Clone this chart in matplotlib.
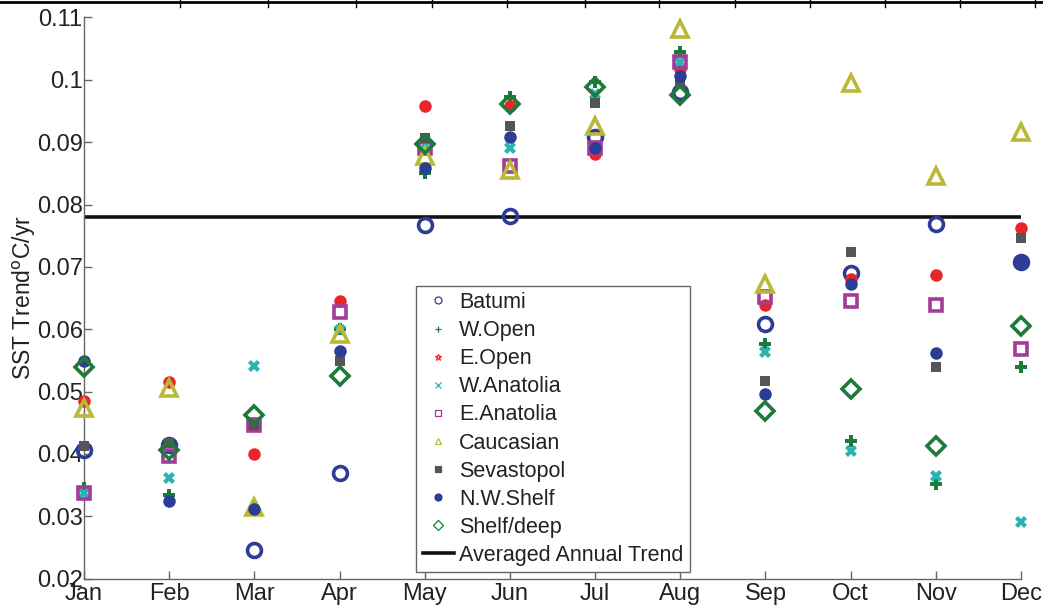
import numpy as np
import matplotlib.pyplot as plt
from matplotlib.lines import Line2D

MONTHS = ['Jan', 'Feb', 'Mar', 'Apr', 'May', 'Jun',
          'Jul', 'Aug', 'Sep', 'Oct', 'Nov', 'Dec']

# monthly SST trends per region (degC / yr)
batumi = [0.0406, 0.0415, 0.0245, 0.0370, 0.0767, 0.0781,
          0.0909, 0.0981, 0.0608, 0.0690, 0.0768, 0.0708]
w_open = [0.0345, 0.0334, 0.0312, 0.0600, 0.0850, 0.0973,
          0.0997, 0.1045, 0.0577, 0.0421, 0.0352, 0.0539]
e_open = [0.0485, 0.0515, 0.0400, 0.0645, 0.0958, 0.0958,
          0.0881, 0.1018, 0.0639, 0.0680, 0.0687, 0.0762]
w_anatolia = [0.0337, 0.0362, 0.0541, 0.0599, 0.0895, 0.0891,
              0.0978, 0.1029, 0.0564, 0.0405, 0.0365, 0.0290]
e_anatolia = [0.0337, 0.0396, 0.0446, 0.0628, 0.0890, 0.0861,
              0.0890, 0.1029, 0.0651, 0.0645, 0.0639, 0.0569]
caucasian = [0.0474, 0.0505, 0.0315, 0.0593, 0.0877, 0.0855,
             0.0926, 0.1081, 0.0673, 0.0995, 0.0845, 0.0916]
sevastopol = [0.0412, 0.0418, 0.0446, 0.0549, 0.0906, 0.0926,
              0.0963, 0.0994, 0.0517, 0.0724, 0.0539, 0.0746]
nw_shelf = [0.0549, 0.0325, 0.0312, 0.0565, 0.0858, 0.0909,
            0.0890, 0.1006, 0.0496, 0.0672, 0.0561, 0.0707]
shelf_deep = [0.0540, 0.0406, 0.0462, 0.0525, 0.0897, 0.0961,
              0.0989, 0.0976, 0.0469, 0.0504, 0.0413, 0.0605]

annual_trend = 0.078

# name, values, marker, colour, filled, markersize, legend marker
series = [
    ('Batumi', batumi, 'o', '#2e3c94', False, 10, 'o'),
    ('W.Open', w_open, 'P', '#1c7a3c', True, 9, '+'),
    ('E.Open', e_open, 'o', '#e8262a', True, 9, '*'),
    ('W.Anatolia', w_anatolia, 'X', '#2ab3b0', True, 8, 'x'),
    ('E.Anatolia', e_anatolia, 's', '#a23c98', False, 9, 's'),
    ('Caucasian', caucasian, '^', '#b9b937', False, 12, '^'),
    ('Sevastopol', sevastopol, 's', '#555555', True, 7, 's'),
    ('N.W.Shelf', nw_shelf, 'o', '#2b3d94', True, 9, 'o'),
    ('Shelf/deep', shelf_deep, 'D', '#1f7a3a', False, 9, 'D'),
]


def main():
    plt.rcParams['font.family'] = ['Liberation Sans', 'DejaVu Sans']

    fig = plt.figure(figsize=(10.44, 6.09), dpi=100)
    ax = fig.add_axes([0.0805, 0.050, 0.8975, 0.9213])

    x = np.arange(1, len(MONTHS) + 1)
    handles = []
    for name, vals, mk, col, filled, ms, legmk in series:
        ax.plot(x, vals, linestyle='none', marker=mk, markersize=ms,
                markerfacecolor=col if filled else 'none',
                markeredgecolor=col, markeredgewidth=0 if filled else 2.6,
                zorder=3, clip_on=False)
        handles.append(Line2D([], [], linestyle='none', marker=legmk,
                              markersize=5, color=col,
                              markerfacecolor=col if filled and legmk in 'so' else 'none',
                              markeredgewidth=0.9, label=name))

    ax.plot([x[0], x[-1]], [annual_trend, annual_trend], color='#111111',
            linewidth=2.6, zorder=2)
    handles.append(Line2D([], [], color='#111111', linewidth=2.6,
                          label='Averaged Annual Trend'))

    # Axes styling
    ax.set_xlim(1, 12)
    ax.set_ylim(0.02, 0.11)
    ax.set_xticks(x)
    ax.set_xticklabels(MONTHS)
    ax.set_yticks(np.arange(0.02, 0.111, 0.01))
    ax.set_yticklabels(['0.02', '0.03', '0.04', '0.05', '0.06', '0.07',
                        '0.08', '0.09', '0.1', '0.11'])
    for s in ('top', 'right'):
        ax.spines[s].set_visible(False)
    for s in ('left', 'bottom'):
        ax.spines[s].set_color('#666666')
        ax.spines[s].set_linewidth(1.0)
    ax.tick_params(direction='in', length=6, width=1, color='#666666',
                   labelsize=17, labelcolor='#222222')
    ax.tick_params(axis='x', pad=3)
    ax.tick_params(axis='y', pad=1)
    ax.set_ylabel('SST Trend$^{\\mathrm{o}}$C/yr', fontsize=16.5,
                  color='#222222', labelpad=-1)

    leg = ax.legend(handles=handles, loc='lower left',
                    bbox_to_anchor=(0.3545, 0.011), borderaxespad=0,
                    fontsize=15.5, labelspacing=0.33, handlelength=1.45,
                    handletextpad=0.25, borderpad=0.3, fancybox=False,
                    framealpha=1, edgecolor='#666666')
    leg.get_frame().set_linewidth(1.0)
    for t in leg.get_texts():
        t.set_color('#222222')

    # frame edge left over from the table above the chart
    fig.add_artist(Line2D([0, 0.997], [0.997, 0.997], color='black',
                          linewidth=2, transform=fig.transFigure))
    for xp in [180, 268, 356, 432, 507, 585, 659, 735, 810, 885, 960, 1035]:
        fig.add_artist(Line2D([xp / 1044, xp / 1044], [0.988, 1.0],
                              color='black', linewidth=1,
                              transform=fig.transFigure))

    fig.savefig('out.png', dpi=100)


if __name__ == '__main__':
    main()
